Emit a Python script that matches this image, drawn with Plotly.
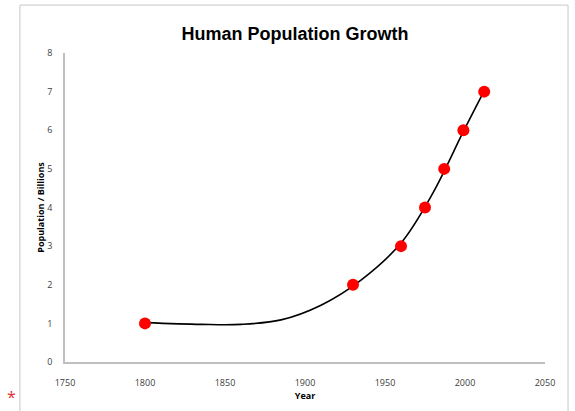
import plotly.graph_objects as go

# data points (year, population in billions)
years = [1800, 1930, 1960, 1975, 1987, 1999, 2012]
population = [1, 2, 3, 4, 5, 6, 7]

# trend curve
trend_years = [1800, 1835, 1860, 1885, 1910, 1935, 1960, 1980, 1999, 2012]
trend_values = [1.02, 0.975, 0.975, 1.09, 1.47, 2.12, 3.08, 4.38, 5.97, 7.02]

x_ticks = [1750, 1800, 1850, 1900, 1950, 2000, 2050]
y_ticks = [0, 1, 2, 3, 4, 5, 6, 7, 8]

AXIS_GRAY = '#bfbfbf'
TICK_FONT = dict(family='Open Sans, Liberation Sans, Arial', size=9, color='#404040')
TITLE_FONT = dict(family='Open Sans, Liberation Sans, Arial', size=9, color='black', weight='bold')

fig = go.Figure()
fig.add_trace(go.Scatter(
    x=trend_years, y=trend_values, mode='lines',
    line=dict(color='black', width=1.6, shape='spline', smoothing=1.0),
    hoverinfo='skip', showlegend=False,
))
fig.add_trace(go.Scatter(
    x=years, y=population, mode='markers',
    marker=dict(color='#ff0000', size=12, line=dict(width=0)),
    showlegend=False,
))

fig.update_layout(
    width=575, height=411,
    margin=dict(l=65, r=30, t=53, b=49),
    paper_bgcolor='white', plot_bgcolor='white',
    title=dict(
        text='<b>Human Population Growth</b>',
        x=0.513, xanchor='center', y=0.917, yanchor='middle',
        font=dict(family='Liberation Sans, Arial', size=18, color='black'),
    ),
    xaxis=dict(
        range=[1750, 2050], tickvals=x_ticks, showgrid=False, zeroline=False,
        showline=True, linecolor=AXIS_GRAY, linewidth=1.5, ticks='',
        tickfont=TICK_FONT, ticklabelstandoff=11, automargin=False,
        title=dict(text='Year', font=TITLE_FONT, standoff=4),
    ),
    yaxis=dict(
        range=[0, 8], tickvals=y_ticks, showgrid=False, zeroline=False,
        showline=True, linecolor=AXIS_GRAY, linewidth=1.5, ticks='',
        tickfont=TICK_FONT, ticklabelstandoff=9, automargin=False,
        title=dict(text='Population / Billions', font=TITLE_FONT, standoff=1),
    ),
    shapes=[dict(
        type='rect', xref='paper', yref='paper',
        x0=-0.094, x1=1.048, y0=-0.25, y1=1.155,
        line=dict(color='#c8c8c8', width=1), layer='below',
    )],
    annotations=[dict(
        text='*', xref='paper', yref='paper', x=-0.125, y=-0.155,
        yanchor='bottom', showarrow=False, font=dict(color='#e03030', size=16),
    )],
)

# drop the page's default body margin so the figure sits at the window corner
fig.write_html("out.html", config={'displayModeBar': False},
               post_script="document.body.style.margin='0px';")
